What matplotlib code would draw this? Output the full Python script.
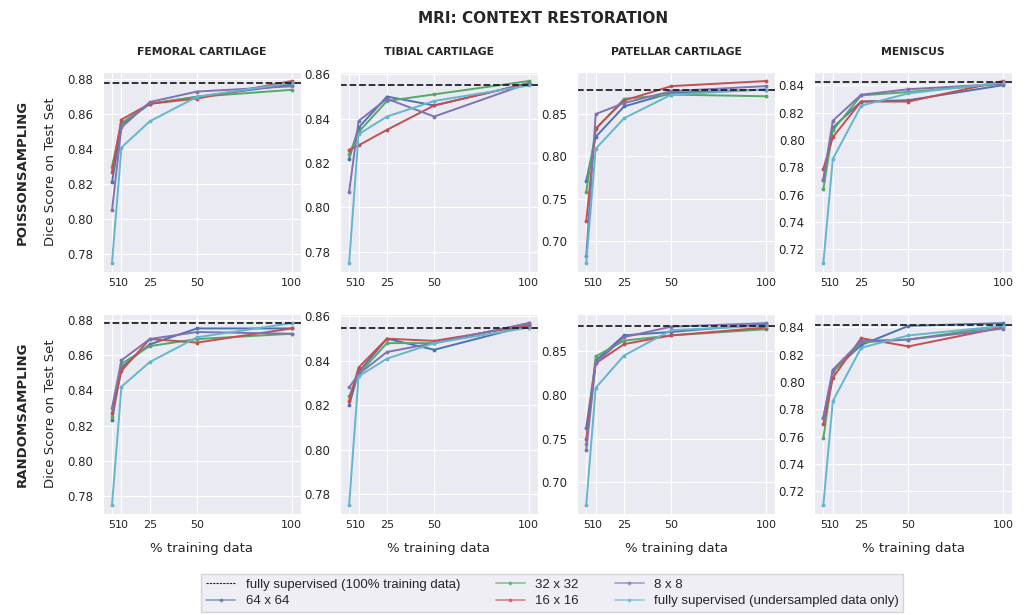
import numpy as np
import matplotlib
matplotlib.use("Agg")
import matplotlib.pyplot as plt
import seaborn as sns
from matplotlib.lines import Line2D

sns.set_style("darkgrid")
plt.rcParams['font.family'] = ['DejaVu Sans']

# % of training data used
train_pct = [5, 10, 25, 50, 100]

regions = ["FEMORAL CARTILAGE", "TIBIAL CARTILAGE", "PATELLAR CARTILAGE", "MENISCUS"]
samplings = ["POISSONSAMPLING", "RANDOMSAMPLING"]
series_names = ["64 x 64", "32 x 32", "16 x 16", "8 x 8", "fully supervised (undersampled data only)"]
series_colors = ["#4C72B0", "#55A868", "#C44E52", "#8172B2", "#64B5CD"]

# dice of the fully supervised model trained on all data, per region
full_baseline = [0.878, 0.855, 0.879, 0.842]

# poisson sampling, one list per region, rows follow series_names
poisson_femoral = [
    [0.821, 0.854, 0.866, 0.870, 0.877],
    [0.830, 0.855, 0.866, 0.870, 0.874],
    [0.827, 0.857, 0.866, 0.869, 0.879],
    [0.805, 0.8525, 0.867, 0.873, 0.876],
    [0.775, 0.841, 0.856, 0.870, 0.878],
]
poisson_tibial = [
    [0.822, 0.836, 0.850, 0.846, 0.856],
    [0.824, 0.834, 0.848, 0.851, 0.857],
    [0.826, 0.828, 0.835, 0.846, 0.856],
    [0.807, 0.839, 0.849, 0.841, 0.856],
    [0.775, 0.833, 0.841, 0.848, 0.855],
]
poisson_patellar = [
    [0.771, 0.823, 0.859, 0.875, 0.879],
    [0.758, 0.832, 0.868, 0.873, 0.871],
    [0.723, 0.833, 0.866, 0.883, 0.889],
    [0.682, 0.850, 0.863, 0.877, 0.883],
    [0.674, 0.809, 0.845, 0.873, 0.879],
]
poisson_meniscus = [
    [0.771, 0.809, 0.828, 0.829, 0.840],
    [0.764, 0.807, 0.8325, 0.835, 0.841],
    [0.779, 0.802, 0.828, 0.828, 0.843],
    [0.771, 0.814, 0.833, 0.837, 0.841],
    [0.710, 0.786, 0.825, 0.834, 0.842],
]

# random sampling
random_femoral = [
    [0.823, 0.853, 0.866, 0.875, 0.875],
    [0.825, 0.855, 0.865, 0.869, 0.872],
    [0.827, 0.851, 0.869, 0.867, 0.875],
    [0.830, 0.857, 0.869, 0.873, 0.872],
    [0.775, 0.842, 0.856, 0.870, 0.878],
]
random_tibial = [
    [0.820, 0.835, 0.850, 0.845, 0.856],
    [0.824, 0.834, 0.848, 0.848, 0.857],
    [0.822, 0.837, 0.850, 0.849, 0.856],
    [0.828, 0.834, 0.844, 0.848, 0.857],
    [0.775, 0.833, 0.841, 0.848, 0.855],
]
random_patellar = [
    [0.762, 0.839, 0.868, 0.872, 0.881],
    [0.744, 0.844, 0.862, 0.868, 0.875],
    [0.749, 0.836, 0.858, 0.868, 0.877],
    [0.737, 0.836, 0.866, 0.878, 0.882],
    [0.674, 0.808, 0.845, 0.874, 0.879],
]
random_meniscus = [
    [0.774, 0.808, 0.827, 0.841, 0.843],
    [0.759, 0.807, 0.829, 0.831, 0.841],
    [0.769, 0.803, 0.832, 0.826, 0.840],
    [0.774, 0.809, 0.830, 0.831, 0.839],
    [0.710, 0.786, 0.825, 0.834, 0.841],
]

results = [
    [poisson_femoral, poisson_tibial, poisson_patellar, poisson_meniscus],
    [random_femoral, random_tibial, random_patellar, random_meniscus],
]

fig, axes = plt.subplots(2, 4, figsize=(10.25, 6.15), dpi=100)
fig.subplots_adjust(left=0.1005, right=0.9873, top=0.883, bottom=0.164,
                    wspace=0.2, hspace=0.21)

for r in range(2):
    for c in range(4):
        ax = axes[r, c]
        for k, vals in enumerate(results[r][c]):
            ax.plot(train_pct, vals, color=series_colors[k], marker='.',
                    markersize=3.5, linewidth=1.4)
        ax.axhline(full_baseline[c], color='#222222', linestyle='--', linewidth=1.3)
        ax.set_xticks(train_pct)
        ax.set_xticklabels([str(p) for p in train_pct])
        ax.tick_params(axis='y', labelsize=8.5)
        ax.tick_params(axis='x', labelsize=8, pad=1)
        if r == 0:
            ax.set_title(regions[c], fontsize=7.8, fontweight='bold', pad=12)
        else:
            ax.set_xlabel("% training data", fontsize=9.5, labelpad=8)
        if c == 0:
            ax.set_ylabel("Dice Score on Test Set", fontsize=9.5)
            ax.yaxis.set_label_coords(-0.235, 0.5)
            ax.text(-0.41, 0.5, samplings[r], transform=ax.transAxes,
                    rotation=90, ha='center', va='center',
                    fontsize=9.5, fontweight='bold')

fig.suptitle("MRI: CONTEXT RESTORATION", fontsize=11, fontweight='bold',
             x=0.53, y=0.982)

handles = [Line2D([], [], color='#222222', linestyle='--', linewidth=0.8,
                  dashes=(2, 1))]
for name, col in zip(series_names, series_colors):
    handles.append(Line2D([], [], color=col, marker='.', markersize=3.5,
                          linewidth=1.3, alpha=0.6))
labels = ["fully supervised (100% training data)"] + series_names
fig.legend(handles, labels, loc='lower center', ncol=3,
           bbox_to_anchor=(0.539, -0.006),
           prop={'family': 'Liberation Sans', 'size': 9.5},
           handlelength=2.2, columnspacing=2.7, labelspacing=0.35,
           borderpad=0.35, fancybox=False)

fig.savefig("out.png", dpi=100)
